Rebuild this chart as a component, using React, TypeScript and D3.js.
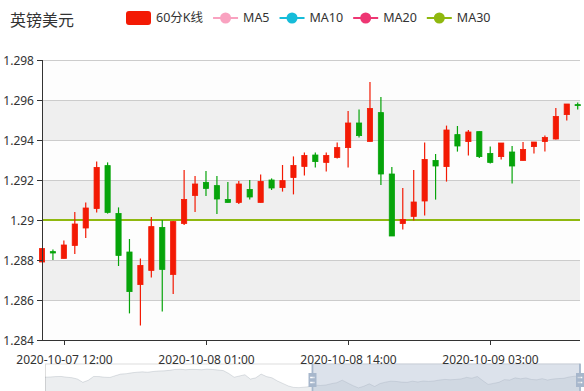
import { useEffect, useRef } from "react";
import * as d3 from "d3";

const title = "英镑美元";
const legendNames = ["60分K线", "MA5", "MA10", "MA20", "MA30"];
const legendColors = ["#f31a04", "#f9a2c0", "#16bcd9", "#ee3673", "#8fb80f"];
const upColor = "#f31a04";
const downColor = "#06a40a";

// hourly candles, 2020-10-07 10:00 .. 2020-10-09 11:00
const categories = d3.timeHour.range(new Date(2020, 9, 7, 10), new Date(2020, 9, 9, 12));
const xTickLabels = ["2020-10-07 12:00", "2020-10-08 01:00", "2020-10-08 14:00", "2020-10-09 03:00"];
const yTicks = [1.284, 1.286, 1.288, 1.29, 1.292, 1.294, 1.296, 1.298];

const opens = [
  1.2879, 1.28842, 1.28808, 1.28873, 1.2896, 1.29057, 1.29272, 1.29033, 1.2884, 1.28677,
  1.28748, 1.28963, 1.28728, 1.28983, 1.29123, 1.29188, 1.29172, 1.29103, 1.29088, 1.29153,
  1.29088, 1.292, 1.29162, 1.29212, 1.29268, 1.29325, 1.29288, 1.29313, 1.29362, 1.29485,
  1.29393, 1.29537, 1.2923, 1.28982, 1.29018, 1.29095, 1.29298, 1.29267, 1.29427, 1.29392,
  1.29442, 1.29333, 1.29317, 1.2934, 1.29298, 1.29367, 1.29392, 1.29405, 1.29527, 1.29577,
];
const closes = [
  1.28857, 1.28835, 1.28875, 1.2898, 1.2906, 1.29263, 1.29038, 1.28823, 1.28642, 1.28773,
  1.28967, 1.28753, 1.28992, 1.29103, 1.2918, 1.29158, 1.29105, 1.29088, 1.2918, 1.29115,
  1.29193, 1.2916, 1.29197, 1.29273, 1.29323, 1.29292, 1.29323, 1.29362, 1.29485, 1.29422,
  1.29558, 1.2923, 1.2892, 1.29003, 1.2909, 1.29303, 1.2927, 1.2945, 1.2937, 1.2944,
  1.29317, 1.29288, 1.29385, 1.2927, 1.29353, 1.2939, 1.29413, 1.29518, 1.2958, 1.29572,
];
const lows = [
  1.2879, 1.288, 1.28808, 1.2883, 1.2891, 1.29037, 1.29032, 1.2877, 1.28533, 1.28472,
  1.28712, 1.28542, 1.2863, 1.28975, 1.2904, 1.2912, 1.2903, 1.29087, 1.2908, 1.29103,
  1.29088, 1.2915, 1.29142, 1.29128, 1.29222, 1.29262, 1.29242, 1.29308, 1.29262, 1.29412,
  1.29393, 1.29175, 1.2892, 1.28952, 1.28997, 1.29022, 1.29102, 1.29192, 1.29342, 1.29322,
  1.2931, 1.29282, 1.29302, 1.29182, 1.29298, 1.29332, 1.29342, 1.29402, 1.29497, 1.29553,
];
const highs = [
  1.2886, 1.28853, 1.28897, 1.2904, 1.29087, 1.29293, 1.29288, 1.29063, 1.28905, 1.28808,
  1.29015, 1.29, 1.28995, 1.2925, 1.2922, 1.29245, 1.2922, 1.2919, 1.29195, 1.292,
  1.29227, 1.29208, 1.29275, 1.29318, 1.29338, 1.29338, 1.29338, 1.29387, 1.29545, 1.29553,
  1.2969, 1.29615, 1.29265, 1.2916, 1.2925, 1.29388, 1.2933, 1.29472, 1.2947, 1.2945,
  1.29442, 1.29367, 1.29385, 1.2937, 1.2939, 1.2939, 1.29422, 1.2956, 1.2958, 1.29587,
];
const ma30Level = 1.29;

// closes of the 50 earlier hours
const earlierCloses = [
  1.295, 1.2952, 1.2955, 1.2956, 1.295, 1.2946, 1.2935, 1.2909, 1.2925, 1.2956,
  1.2955, 1.295, 1.2948, 1.2962, 1.2975, 1.2978, 1.2985, 1.299, 1.2993, 1.299,
  1.2996, 1.3, 1.3001, 1.3005, 1.3012, 1.3014, 1.301, 1.3013, 1.3012, 1.301,
  1.3015, 1.3012, 1.3008, 1.3003, 1.298, 1.295, 1.296, 1.297, 1.2935, 1.2945,
  1.2975, 1.2955, 1.2945, 1.292, 1.29, 1.288, 1.2868, 1.2866, 1.287, 1.2875,
];
const zoomStart = 50; // percent
const zoomEnd = 100;

const handlePath =
  "M8.2,13.6V3.9H6.3v9.7H3.1v14.9h3.3v9.7h1.8v-9.7h3.3V13.6H8.2z M9.7,24.4H4.8v-1.4h4.9V24.4z M9.7,19.1H4.8v-1.4h4.9V19.1z";

export default function App() {
  const svgRef = useRef<SVGSVGElement>(null);

  useEffect(() => {
    if (!svgRef.current) return;
    const width = 584;
    const height = 391;
    const font = "'Noto Sans', 'Noto Sans CJK SC', sans-serif";
    const grid = { left: 42, right: 580, top: 60, bottom: 340 };

    const svg = d3.select(svgRef.current);
    svg.selectAll("*").remove();
    svg.attr("width", width).attr("height", height).style("font-family", font);

    const x = d3.scaleLinear().domain([0, categories.length - 1]).range([42, 577.7]);
    const y = d3.scaleLinear().domain([yTicks[0], yTicks[yTicks.length - 1]]).range([grid.bottom, grid.top]);
    const fmt = d3.timeFormat("%Y-%m-%d %H:%M");
    const catLabels = categories.map(fmt);

    // split areas
    for (let i = 0; i < yTicks.length - 1; i++) {
      svg.append("rect")
        .attr("x", grid.left)
        .attr("y", y(yTicks[i + 1]))
        .attr("width", grid.right - grid.left)
        .attr("height", y(yTicks[i]) - y(yTicks[i + 1]))
        .attr("fill", i % 2 === 0 ? "#fdfdfd" : "#efefef");
    }

    // grid lines
    svg.selectAll(".grid")
      .data(yTicks.slice(1))
      .enter()
      .append("line")
      .attr("x1", grid.left)
      .attr("x2", grid.right)
      .attr("y1", (d) => Math.round(y(d)) + 0.5)
      .attr("y2", (d) => Math.round(y(d)) + 0.5)
      .attr("stroke", "#cccccc");

    // MA30
    svg.append("line")
      .attr("x1", grid.left)
      .attr("x2", grid.right)
      .attr("y1", y(ma30Level))
      .attr("y2", y(ma30Level))
      .attr("stroke", legendColors[4])
      .attr("stroke-width", 2);

    // candles
    const candles = svg.append("g");
    categories.forEach((_, i) => {
      const o = opens[i];
      const c = closes[i];
      const color = c >= o ? upColor : downColor;
      const cx = x(i);
      candles.append("line")
        .attr("x1", cx)
        .attr("x2", cx)
        .attr("y1", y(highs[i]))
        .attr("y2", y(lows[i]))
        .attr("stroke", color)
        .attr("stroke-width", 1.2);
      const top = y(Math.max(o, c));
      const h = Math.max(1, Math.abs(y(o) - y(c)));
      candles.append("rect")
        .attr("x", cx - 2.6)
        .attr("y", top)
        .attr("width", 5.2)
        .attr("height", h)
        .attr("fill", color)
        .attr("stroke", color)
        .attr("stroke-width", 0.8);
    });

    // y axis
    svg.append("line")
      .attr("x1", grid.left + 0.5).attr("x2", grid.left + 0.5)
      .attr("y1", grid.top).attr("y2", grid.bottom)
      .attr("stroke", "#333");
    yTicks.forEach((t) => {
      const yy = Math.round(y(t)) + 0.5;
      svg.append("line")
        .attr("x1", grid.left - 5).attr("x2", grid.left)
        .attr("y1", yy).attr("y2", yy)
        .attr("stroke", "#333");
      svg.append("text")
        .attr("x", grid.left - 8)
        .attr("y", yy)
        .attr("dy", "0.35em")
        .attr("text-anchor", "end")
        .attr("font-size", 12)
        .attr("fill", "#333")
        .text(String(t));
    });

    // dataZoom slider
    const sl = { left: 45, right: 580, top: 363.5, height: 30 };
    const allCloses = earlierCloses.concat(closes);
    const ext = d3.extent(allCloses) as [number, number];
    const pad = (ext[1] - ext[0]) * 0.3;
    const sx = d3.scaleLinear().domain([0, allCloses.length - 1]).range([sl.left, sl.right]);
    const sy = d3.scaleLinear().domain([ext[0] - pad, ext[1] + pad]).range([sl.top + sl.height, sl.top]);
    const slider = svg.append("g");
    slider.append("rect")
      .attr("x", sl.left + 0.5).attr("y", sl.top + 0.5)
      .attr("width", sl.right - sl.left).attr("height", sl.height)
      .attr("fill", "none").attr("stroke", "#dddddd");
    const area = d3.area<number>()
      .x((_, i) => sx(i))
      .y0(sl.top + sl.height)
      .y1((d) => sy(d));
    const line = d3.line<number>().x((_, i) => sx(i)).y((d) => sy(d));
    slider.append("path").datum(allCloses).attr("d", area)
      .attr("fill", "rgba(47,69,84,0.09)");
    slider.append("path").datum(allCloses).attr("d", line)
      .attr("fill", "none").attr("stroke", "rgba(47,69,84,0.3)").attr("stroke-width", 0.5);
    const fx0 = sl.left + ((sl.right - sl.left) * zoomStart) / 100;
    const fx1 = sl.left + ((sl.right - sl.left) * zoomEnd) / 100;
    slider.append("rect")
      .attr("x", fx0).attr("y", sl.top)
      .attr("width", fx1 - fx0).attr("height", sl.height)
      .attr("fill", "rgba(167,183,204,0.4)");
    [fx0, fx1].forEach((hx) => {
      slider.append("path")
        .attr("d", handlePath)
        .attr("transform", `translate(${hx},${sl.top + 16.5}) scale(0.95) translate(-7.3,-21.05)`)
        .attr("fill", "#a7b7cc");
    });

    // x axis
    svg.append("line")
      .attr("x1", grid.left).attr("x2", grid.right)
      .attr("y1", grid.bottom + 0.5).attr("y2", grid.bottom + 0.5)
      .attr("stroke", "#333");
    xTickLabels.forEach((lab) => {
      const i = catLabels.indexOf(lab);
      const xx = Math.round(x(i)) + 0.5;
      svg.append("line")
        .attr("x1", xx).attr("x2", xx)
        .attr("y1", grid.bottom).attr("y2", grid.bottom + 5)
        .attr("stroke", "#333");
      svg.append("text")
        .attr("x", xx)
        .attr("y", 364)
        .attr("text-anchor", "middle")
        .attr("font-size", 12)
        .attr("fill", "#333")
        .text(lab);
    });

    // title
    svg.append("text")
      .attr("x", 10)
      .attr("y", 26)
      .attr("font-size", 16)
      .attr("fill", "#333")
      .text(title);

    // legend
    let lx = 126;
    const ly = 18;
    legendNames.forEach((name, i) => {
      const g = svg.append("g");
      if (i === 0) {
        g.append("rect")
          .attr("x", lx).attr("y", ly - 7)
          .attr("width", 25).attr("height", 14)
          .attr("rx", 3)
          .attr("fill", legendColors[i]);
      } else {
        g.append("line")
          .attr("x1", lx).attr("x2", lx + 25)
          .attr("y1", ly).attr("y2", ly)
          .attr("stroke", legendColors[i]).attr("stroke-width", 2);
        g.append("circle")
          .attr("cx", lx + 12.5).attr("cy", ly).attr("r", 5.5)
          .attr("fill", legendColors[i]);
      }
      const t = g.append("text")
        .attr("x", lx + 30)
        .attr("y", ly)
        .attr("dy", "0.35em")
        .attr("font-size", 12.5)
        .attr("fill", "#333")
        .text(name);
      const w = (t.node() as SVGTextElement).getComputedTextLength();
      lx += 30 + w + 10;
    });
  }, []);

  return (
    <svg
      ref={svgRef}
      style={{ position: "absolute", left: 0, top: 0, display: "block", background: "#fff" }}
    />
  );
}
